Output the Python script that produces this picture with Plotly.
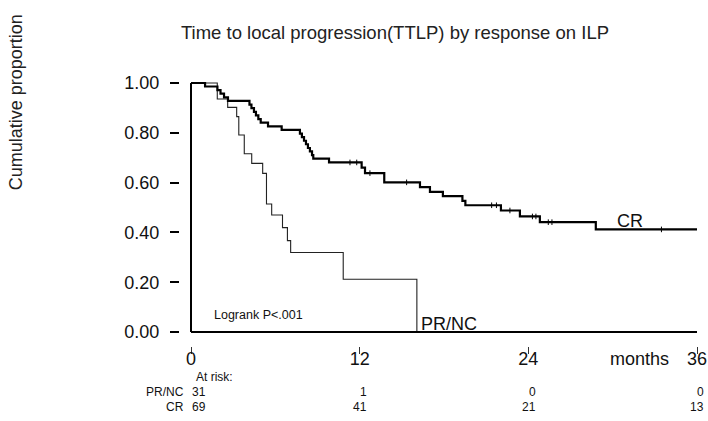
import plotly.graph_objects as go

# ---- data ----
prnc_time = [0, 1.87, 2.61, 3.25, 3.40, 3.79, 4.32, 5.10, 5.37, 5.74, 6.51, 6.86, 7.09, 10.83, 16.07]
prnc_surv = [1.0, 0.936, 0.902, 0.865, 0.791, 0.716, 0.677, 0.637, 0.514, 0.470, 0.419, 0.367, 0.319, 0.212, 0.0]

cr_time = [0, 1.0, 1.88, 2.10, 2.35, 2.63, 4.16, 4.30, 4.48, 4.62, 4.79, 4.96, 5.48, 6.45,
           7.75, 7.89, 8.04, 8.18, 8.32, 8.46, 8.61, 8.70, 9.82, 12.14, 12.38, 13.75,
           16.29, 17.0, 17.92, 19.31, 19.52, 22.05, 23.4, 24.82, 28.8, 36]
cr_surv = [1.0, 0.986, 0.971, 0.957, 0.942, 0.928, 0.913, 0.899, 0.884, 0.870, 0.855, 0.841,
           0.826, 0.812, 0.797, 0.783, 0.768, 0.754, 0.739, 0.725, 0.710, 0.696, 0.681,
           0.660, 0.638, 0.601, 0.582, 0.563, 0.546, 0.527, 0.509, 0.488, 0.464, 0.441,
           0.412, 0.412]
cr_censor = [11.31, 11.79, 12.73, 15.34, 21.39, 21.73, 22.69, 24.29, 24.54, 25.42, 25.68, 33.47]

x_ticks = [0, 12, 24, 36]
y_ticks = [0.0, 0.2, 0.4, 0.6, 0.8, 1.0]
risk_groups = ["PR/NC", "CR"]
risk_prnc = [31, 1, 0, 0]
risk_cr = [69, 41, 21, 13]

title_text = "Time to local progression(TTLP) by response on ILP"
ylabel_text = "Cumulative proportion"
logrank_text = "Logrank P<.001"
xunit_text = "months"
risk_header = "At risk:"


def step_value(times, surv, t):
    v = surv[0]
    for ti, si in zip(times, surv):
        if ti <= t:
            v = si
    return v


cr_censor_y = [step_value(cr_time, cr_surv, t) for t in cr_censor]

FONT = "Liberation Sans, Arial, sans-serif"
INK = "#111111"
W, H = 708, 421

fig = go.Figure()
fig.add_trace(go.Scatter(x=prnc_time, y=prnc_surv, mode="lines", line_shape="hv",
                         line=dict(color="#222222", width=1.1), showlegend=False, hoverinfo="skip"))
fig.add_trace(go.Scatter(x=cr_time, y=cr_surv, mode="lines", line_shape="hv",
                         line=dict(color="#000000", width=2.2), showlegend=False, hoverinfo="skip"))
fig.add_trace(go.Scatter(x=cr_censor, y=cr_censor_y, mode="markers",
                         marker=dict(symbol="line-ns", size=4, line=dict(color="#000000", width=1)),
                         showlegend=False, hoverinfo="skip"))

# axis frame lines (drawn detached from the tick marks)
fig.add_shape(type="line", xref="x", yref="y", x0=0, x1=0, y0=0, y1=1,
              line=dict(color="#000000", width=2))
fig.add_shape(type="line", xref="x", yref="y", x0=0, x1=x_ticks[-1], y0=0, y1=0,
              line=dict(color="#000000", width=2))

ann = []
# curve labels
ann.append(dict(x=prnc_time[-1], y=0.0, xref="x", yref="y", text=risk_groups[0], showarrow=False,
                xanchor="left", yanchor="bottom", xshift=2, yshift=-4,
                font=dict(family=FONT, size=18, color=INK)))
ann.append(dict(x=30.2, y=cr_surv[-1], xref="x", yref="y", text=risk_groups[1], showarrow=False,
                xanchor="left", yanchor="bottom", yshift=-4,
                font=dict(family=FONT, size=18, color=INK)))
ann.append(dict(x=1.5, y=0.07, xref="x", yref="y", text=logrank_text, showarrow=False,
                xanchor="left", yanchor="middle",
                font=dict(family=FONT, size=12.5, color=INK)))
ann.append(dict(x=31.9, y=-0.047, xref="x", yref="paper", text=xunit_text, showarrow=False,
                xanchor="center", yanchor="middle",
                font=dict(family=FONT, size=18, color=INK)))
# y axis title
ann.append(dict(x=-0.312, y=0.9, xref="paper", yref="paper", text=ylabel_text, showarrow=False,
                textangle=-90, xanchor="center", yanchor="middle",
                font=dict(family=FONT, size=18, color="#222222")))
# at-risk table
ann.append(dict(x=0, y=-0.1144, xref="x", yref="paper", text=risk_header, showarrow=False,
                xanchor="left", yanchor="middle", xshift=3,
                font=dict(family=FONT, size=12, color=INK)))
row_y = [-0.1697, -0.2251]
col_shift = [17, 9, 10, 9]
for gname, vals, yy in zip(risk_groups, [risk_prnc, risk_cr], row_y):
    ann.append(dict(x=0, y=yy, xref="x", yref="paper", text=gname, showarrow=False,
                    xanchor="right", yanchor="middle", xshift=-5,
                    font=dict(family=FONT, size=12, color=INK)))
    for t, v, sh in zip(x_ticks, vals, col_shift):
        ann.append(dict(x=t, y=yy, xref="x", yref="paper", text=str(v), showarrow=False,
                        xanchor="right", yanchor="middle", xshift=sh,
                        font=dict(family=FONT, size=12, color=INK)))

fig.update_layout(
    width=W, height=H,
    margin=dict(l=180, r=3, t=75, b=75),
    paper_bgcolor="white", plot_bgcolor="white",
    font=dict(family=FONT, size=18, color=INK),
    title=dict(text=title_text, x=395 / W, y=1 - 33 / H, xref="container", yref="container",
               xanchor="center", yanchor="middle", font=dict(family=FONT, size=18.5, color="#222222")),
    xaxis=dict(range=[-0.7826, 36.569], tickvals=x_ticks, ticktext=[str(t) for t in x_ticks],
               showgrid=False, zeroline=False, showline=False, automargin=False,
               ticks="outside", ticklen=7, tickwidth=1, tickcolor="#333333",
               ticklabelstandoff=-11,
               tickfont=dict(family=FONT, size=18, color=INK)),
    yaxis=dict(range=[-0.0562, 1.0321], tickvals=y_ticks, ticktext=[f"{v:.2f}" for v in y_ticks],
               showgrid=False, zeroline=False, showline=False, automargin=False,
               ticks="outside", ticklen=9, tickwidth=2, tickcolor="#000000",
               ticklabelstandoff=7,
               tickfont=dict(family=FONT, size=18, color=INK)),
    annotations=ann,
)

fig.write_html(
    "out.html",
    config={"displayModeBar": False},
    post_script=("document.body.style.margin='0px';"
                 "document.body.style.overflow='hidden';"
                 "document.documentElement.style.overflow='hidden';"),
)
